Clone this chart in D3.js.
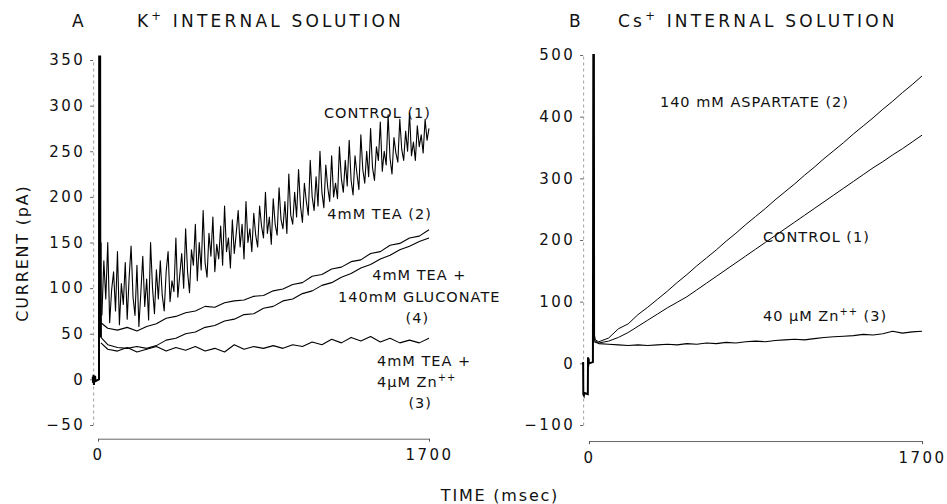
<!DOCTYPE html>
<html>
<head>
<meta charset="utf-8">
<script src="https://cdn.jsdelivr.net/npm/d3@7"></script>
<style>
   body { margin: 0; background: #fff; }
   svg text { font-family: 'DejaVu Sans', 'Liberation Sans', sans-serif; fill: #111; }
</style>
</head>
<body>
<div id="chart"></div>
<script>
// ---- panel A : K+ internal solution, current (pA) vs time (msec)
const timeFineA = d3.range(20, 1701, 10)
const timeCoarseA = [15].concat(d3.range(50, 1701, 50))

const controlA = [
   70, 130, 88, 150, 62, 98, 118, 75, 140, 60,
   105, 82, 128, 66, 112, 146, 90, 70, 125, 58,
   95, 135, 80, 110, 65, 150, 100, 72, 120, 88,
   130, 92, 75, 118, 140, 85, 108, 96, 155, 90,
   115, 138, 100, 165, 118, 95, 142, 125, 170, 108,
   150, 120, 185, 128, 112, 160, 135, 178, 118, 148,
   132, 168, 125, 190, 140, 155, 122, 175, 138, 160,
   185, 145, 170, 132, 195, 150, 165, 140, 182, 158,
   145, 190, 168, 155, 205, 160, 178, 148, 198, 170,
   158, 210, 175, 165, 195, 160, 225, 180, 170, 205,
   178, 230, 190, 172, 215, 195, 180, 240, 200, 185,
   222, 190, 250, 205, 188, 235, 210, 195, 245, 200,
   215, 198, 255, 220, 205, 240, 212, 262, 218, 202,
   245, 225, 208, 268, 230, 215, 250, 222, 275, 232,
   218, 255, 240, 282, 228, 250, 235, 290, 242, 225,
   265, 248, 238, 285, 252, 240, 272, 250, 292, 245,
   260, 240, 278, 255, 268, 248, 285, 262, 275,
]
const teaA = [
   62, 56, 54, 57, 53, 58, 61, 67, 69, 73,
   75, 80, 79, 84, 86, 87, 91, 92, 97, 99,
   104, 106, 113, 115, 121, 123, 129, 131, 138, 140,
   147, 149, 155, 157, 164,
]
const gluconateA = [
   46, 38, 35, 34, 36, 34, 37, 43, 45, 50,
   52, 57, 59, 64, 66, 71, 72, 78, 80, 86,
   88, 94, 97, 103, 106, 112, 116, 122, 126, 132,
   136, 142, 146, 151, 155,
]
const zincA = [
   40, 33, 31, 35, 30, 33, 36, 31, 35, 32,
   36, 31, 34, 30, 38, 33, 36, 34, 37, 34,
   38, 36, 41, 38, 44, 40, 46, 42, 47, 41,
   45, 40, 43, 40, 45,
]
// holding current before the step, then the capacity spike
const transientA = [
   [-27, 3], [-25, -4], [-23, 5], [-21, -6], [-19, 2], [-17, -3], [-15, 4], [-13, -2],
   [5, 0], [6, 365], [8, 365], [9, 120], [11, 360], [12, 60], [14, 150], [15, 46],
]
const yTicksA = [-50, 0, 50, 100, 150, 200, 250, 300, 350]

// ---- panel B : Cs+ internal solution
const timeB = [20].concat(d3.range(50, 1701, 50))
const aspartateB = [
   40, 35, 41, 56, 64, 79, 91, 104, 117, 131,
   144, 158, 171, 184, 198, 211, 225, 238, 251, 265,
   278, 291, 305, 318, 332, 345, 358, 372, 385, 398,
   412, 425, 439, 452, 466,
]
const controlB = [
   38, 33, 36, 42, 50, 60, 70, 80, 90, 99,
   108, 119, 130, 141, 152, 163, 174, 185, 196, 207,
   218, 229, 240, 251, 262, 273, 284, 295, 306, 317,
   327, 338, 348, 359, 370,
]
const zincB = [
   36, 32, 31, 30, 29, 30, 29, 30, 31, 30,
   32, 31, 33, 32, 34, 33, 35, 36, 35, 37,
   38, 39, 38, 40, 42, 43, 44, 45, 47, 46,
   48, 52, 49, 51, 52,
]
const transientB = [
   [-30, 2], [-29, -50], [-26, -52], [-24, -48], [-6, -50], [-5, 10], [-4, -5],
   [-2, 8], [0, 0], [20, 2], [22, 500], [25, 500], [26, 45], [30, 38],
]
const yTicksB = [-100, 0, 100, 200, 300, 400, 500]

const xTicks = [0, 1700]

// labels: {text} marks a superscript
const labelsA = [
   { text: 'CONTROL (1)', t: 1710, v: 292, anchor: 'end' },
   { text: '4mM TEA (2)', t: 1715, v: 182, anchor: 'end' },
   { text: '4mM TEA +', t: 1650, v: 115, anchor: 'middle' },
   { text: '140mM GLUCONATE', t: 1650, v: 91, anchor: 'middle' },
   { text: '(4)', t: 1640, v: 68, anchor: 'middle' },
   { text: '4mM TEA +', t: 1433, v: 20, anchor: 'start' },
   { text: '4μM Zn{++}', t: 1433, v: -3, anchor: 'start' },
   { text: '(3)', t: 1655, v: -26, anchor: 'middle' },
]
const labelsB = [
   { text: '140 mM ASPARTATE (2)', t: 362, v: 424, anchor: 'start' },
   { text: 'CONTROL (1)', t: 888, v: 205, anchor: 'start' },
   { text: '40 μM Zn{++} (3)', t: 888, v: 77, anchor: 'start' },
]

const width = 947
const height = 504

const svg = d3.select('#chart')
   .append('svg')
   .attr('width', width)
   .attr('height', height)

const pairs = (times, values) => values.map((v, i) => [times[i], v])

// writes a string into a text node, "{..}" parts raised as superscripts
const richText = (textSel, str, size) => {
   let raised = false
   str.split(/(\{[^}]*\})/).filter(s => s.length).forEach(part => {
      const sup = part[0] === '{'
      const span = textSel.append('tspan').text(sup ? part.slice(1, -1) : part)
      if (sup) {
         span.attr('font-size', size * 0.68).attr('dy', -size * 0.42)
         raised = true
      } else if (raised) {
         span.attr('dy', size * 0.42)
         raised = false
      }
   })
}

const drawPanel = (p) => {
   const g = svg.append('g')
   const line = d3.line().x(d => p.x(d[0])).y(d => p.y(d[1]))

   svg.append('clipPath')
      .attr('id', 'clip-' + p.id)
      .append('rect')
      .attr('x', p.x(-45))
      .attr('y', p.y(p.top))
      .attr('width', p.x(1720) - p.x(-45))
      .attr('height', p.y(p.axisAt) - p.y(p.top))

   // y axis, a faint dashed rule
   const yAxis = d3.axisLeft(p.y).tickValues(p.yTicks).tickSizeInner(3).tickSizeOuter(0).tickPadding(5)
   g.append('g')
      .attr('transform', `translate(${p.x(p.yAxisAt)},0)`)
      .call(yAxis)
      .call(a => a.select('.domain').attr('stroke', '#888').attr('stroke-dasharray', '3,3').attr('stroke-width', 0.8))
      .call(a => a.selectAll('.tick line').attr('stroke', '#666'))
      .call(a => a.selectAll('.tick text')
         .attr('font-size', 15)
         .attr('letter-spacing', 2.4)
         .attr('font-family', null))

   // x axis
   const xAxis = d3.axisBottom(p.x).tickValues(xTicks).tickFormat(d3.format('d'))
      .tickSizeInner(3).tickSizeOuter(0).tickPadding(8)
   g.append('g')
      .attr('transform', `translate(0,${p.y(p.axisAt)})`)
      .call(xAxis)
      .call(a => a.select('.domain').attr('stroke', '#555').attr('stroke-width', 0.9))
      .call(a => a.selectAll('.tick line').attr('stroke', '#555'))
      .call(a => a.selectAll('.tick text')
         .attr('font-size', 15)
         .attr('letter-spacing', 2.4)
         .attr('font-family', null))

   const plot = g.append('g').attr('clip-path', `url(#clip-${p.id})`)
   plot.append('path')
      .datum(p.transient)
      .attr('d', line)
      .attr('fill', 'none')
      .attr('stroke', '#000')
      .attr('stroke-width', 2)

   plot.selectAll('path.trace')
      .data(p.traces)
      .enter()
      .append('path')
      .attr('class', 'trace')
      .attr('d', d => line(d.points))
      .attr('fill', 'none')
      .attr('stroke', '#000')
      .attr('stroke-width', d => d.weight)
      .attr('stroke-linejoin', 'round')

   p.labels.forEach(l => {
      const t = g.append('text')
         .attr('x', p.x(l.t))
         .attr('y', p.y(l.v))
         .attr('dy', '0.36em')
         .attr('text-anchor', l.anchor)
         .attr('font-size', 14.5)
         .attr('letter-spacing', 1)
      richText(t, l.text, 14.5)
   })

   g.append('text')
      .attr('x', p.letterX)
      .attr('y', 27)
      .attr('font-size', 17)
      .text(p.letter)
   const title = g.append('text')
      .attr('x', p.titleX)
      .attr('y', 27)
      .attr('font-size', 17)
      .attr('letter-spacing', 3.2)
   richText(title, p.title, 17)
}

drawPanel({
   id: 'a',
   x: d3.scaleLinear().domain([0, 1700]).range([98, 429]),
   y: d3.scaleLinear().domain([-50, 350]).range([425, 60]),
   top: 355,
   axisAt: -65,
   yAxisAt: -25,
   yTicks: yTicksA,
   transient: transientA,
   traces: [
      { points: pairs(timeFineA, controlA), weight: 1.1 },
      { points: pairs(timeCoarseA, teaA), weight: 1.1 },
      { points: pairs(timeCoarseA, gluconateA), weight: 1.1 },
      { points: pairs(timeCoarseA, zincA), weight: 1.1 },
   ],
   labels: labelsA,
   letter: 'A',
   letterX: 72,
   title: 'K{+} INTERNAL SOLUTION',
   titleX: 137,
})

drawPanel({
   id: 'b',
   x: d3.scaleLinear().domain([0, 1700]).range([589, 922]),
   y: d3.scaleLinear().domain([-100, 500]).range([425, 55]),
   top: 502,
   axisAt: -126,
   yAxisAt: -30,
   yTicks: yTicksB,
   transient: transientB,
   traces: [
      { points: pairs(timeB, aspartateB), weight: 1 },
      { points: pairs(timeB, controlB), weight: 1 },
      { points: pairs(timeB, zincB), weight: 1.1 },
   ],
   labels: labelsB,
   letter: 'B',
   letterX: 569,
   title: 'Cs{+} INTERNAL SOLUTION',
   titleX: 618,
})

// shared axis titles
svg.append('text')
   .attr('transform', 'translate(22,253) rotate(-90)')
   .attr('text-anchor', 'middle')
   .attr('dy', '0.36em')
   .attr('font-size', 16)
   .attr('letter-spacing', 1.8)
   .text('CURRENT (pA)')

svg.append('text')
   .attr('x', 500)
   .attr('y', 495)
   .attr('text-anchor', 'middle')
   .attr('dy', '0.36em')
   .attr('font-size', 16)
   .attr('letter-spacing', 1.8)
   .text('TIME (msec)')
</script>
</body>
</html>
